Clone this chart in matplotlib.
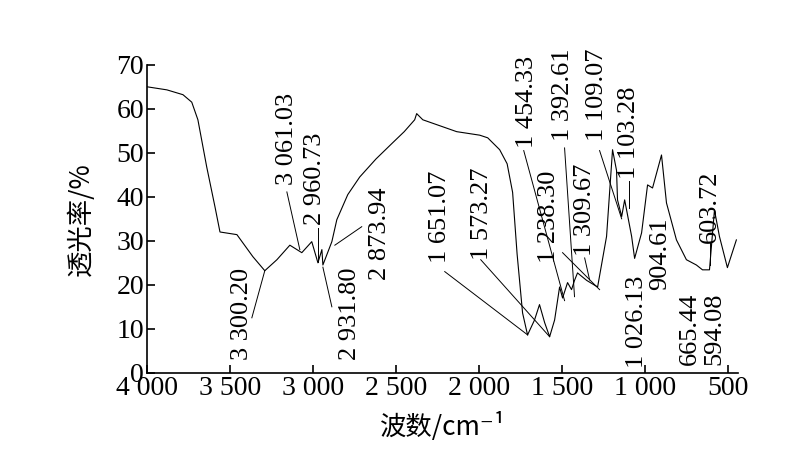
import matplotlib
matplotlib.use("Agg")
import matplotlib.pyplot as plt
import numpy as np

plt.rcParams['font.family'] = ['Liberation Serif', 'DejaVu Sans']

# spectrum (wavenumber, transmittance %)
wavenumber = [4000, 3880, 3783, 3730, 3693, 3640, 3590, 3560, 3458, 3362, 3290, 3217, 3139, 3067, 3007,
              2970, 2946, 2940, 2886, 2856, 2790, 2718, 2620, 2519, 2450, 2387, 2375, 2338, 2134, 1995, 1947,
              1875, 1830, 1797, 1770, 1737, 1707, 1665, 1635, 1604, 1574, 1544, 1514, 1496, 1466, 1442,
              1424, 1406, 1351, 1285, 1231, 1195, 1171, 1165, 1140, 1122, 1080, 1062, 1020,
              984, 954, 900, 870, 810, 750, 690, 653, 611, 581, 551, 503, 449]
transmittance = [65, 64.3, 63.2, 61.5, 57.5, 46.8, 37.7, 32, 31.4, 26.4, 23.2, 25.7, 29, 27.3, 29.8,
                 25, 28, 24.5, 29.8, 34.8, 40.5, 44.5, 48.6, 52.3, 54.8, 57.5, 58.9, 57.5, 54.8, 54, 53.4,
                 50.7, 47.5, 41, 27, 13.6, 8.6, 12, 15.5, 11.4, 8.2, 12, 19.5, 17, 20.5, 18.9,
                 21, 22.7, 21, 19.5, 31, 50.7, 46, 39.3, 35.5, 39.3, 31, 26, 31.8,
                 42.7, 42, 49.5, 38.6, 30.2, 25.7, 24.5, 23.4, 23.4, 37, 31, 23.9, 30.2]

# peak labels: text, text bottom (x, y), leader line (x1, y1, x2, y2) or None
labels = ["3 300.20", "3 061.03", "2 960.73", "2 931.80", "2 873.94", "1 651.07", "1 573.27",
          "1 454.33", "1 392.61", "1 238.30", "1 309.67", "1 109.07", "1 103.28", "1 026.13",
          "904.61", "603.72", "665.44", "594.08"]
label_pos = [(3428, 3.0), (3157, 42.7), (2989, 33.6), (2778, 3.0), (2597, 21.1), (2236, 25.0),
             (1983, 25.7), (1712, 51.1), (1496, 52.7), (1577, 25.0), (1363, 26.5), (1291, 52.7),
             (1098, 44.1), (1047, 1.1), (906, 18.9), (608, 29.5), (731, 1.8), (581, 1.8)]
leaders = [(3368, 12.5, 3290, 23.2), (3157, 41.1, 3079, 28), (2971, 33, 2971, 25.2),
           (2940, 24, 2886, 15), (2868, 29, 2706, 33.2), (2206, 23, 1706, 8.6),
           (1989, 25.7, 1574, 8.2), (1730, 50.5, 1484, 16.4), (1484, 51.1, 1424, 17.3),
           (1496, 27.3, 1273, 18.9), (1363, 26.1, 1333, 21.1), (1273, 50.5, 1140, 35),
           (1098, 43.6, 1098, 37.5), None, None, (608, 29.5, 608, 24.5), None, None]

fig = plt.figure(figsize=(7.9, 4.66), dpi=100)
ax = fig.add_axes([0.186, 0.2, 0.748, 0.661])
ax.plot(wavenumber, transmittance, color='black', lw=0.8)

for txt, (tx, ty), ld in zip(labels, label_pos, leaders):
    ax.text(tx, ty, txt, rotation=90, ha='center', va='bottom', fontsize=19)
    if ld is not None:
        ax.plot([ld[0], ld[2]], [ld[1], ld[3]], color='black', lw=0.7)

ax.set_xlim(4000, 440)
ax.set_ylim(0, 70)
xt = [4000, 3500, 3000, 2500, 2000, 1500, 1000, 500]
ax.set_xticks(xt)
ax.set_xticklabels([f"{v:,}".replace(",", " ") for v in xt])
ax.set_yticks(range(0, 71, 10))
ax.tick_params(direction='in', labelsize=20, length=6, width=1.2, pad=2)
ax.spines['top'].set_visible(False)
ax.spines['right'].set_visible(False)
for s in ['left', 'bottom']:
    ax.spines[s].set_linewidth(1.2)
ax.set_xlabel("波数/cm⁻¹", fontsize=19, labelpad=8, family=['Noto Sans CJK SC', 'DejaVu Sans'])
ax.set_ylabel("透光率/%", fontsize=19, labelpad=16, family=['Noto Sans CJK SC'])

fig.savefig("out.png", dpi=100)
